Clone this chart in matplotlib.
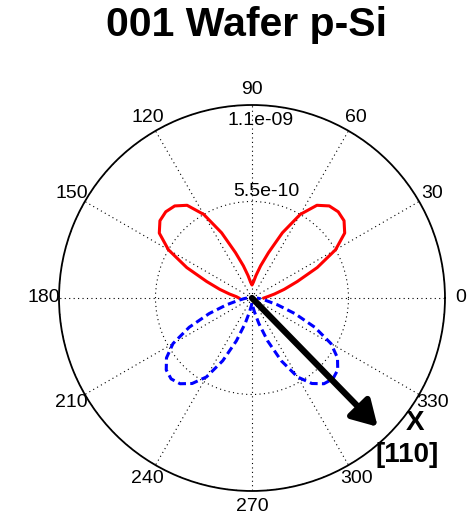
import numpy as np
import matplotlib
matplotlib.use("Agg")
import matplotlib.pyplot as plt

plt.rcParams['font.family'] = ['Liberation Sans', 'DejaVu Sans']

# values, in units of 1e-10
SCALE = 1e-10
red_theta = np.arange(0, 181, 5)
red_r = [0.68, 0.9, 1.3, 1.9, 2.75, 4.1, 5.5, 6.45, 6.85, 6.95,
         6.85, 6.45, 5.5, 4.1, 2.75, 1.9, 1.3, 0.9, 0.74,
         0.9, 1.3, 1.9, 2.75, 4.1, 5.5, 6.45, 6.85, 6.95,
         6.85, 6.45, 5.5, 4.1, 2.75, 1.9, 1.3, 0.9, 0.75]
blue_theta = np.arange(180, 361, 5)
blue_r = [0.28, 0.46, 0.80, 1.50, 2.60, 3.95, 5.20, 5.95, 6.38, 6.52,
          6.38, 5.95, 5.20, 3.95, 2.60, 1.50, 0.80, 0.46, 0.28,
          0.46, 0.80, 1.50, 2.60, 3.95, 5.20, 5.95, 6.38, 6.52,
          6.38, 5.95, 5.20, 3.95, 2.60, 1.50, 0.80, 0.46, 0.28]

rings = [5.5e-10, 1.1e-9]
ring_labels = ['5.5e-10', '1.1e-09']
angle_ticks = list(range(0, 360, 30))
angle_labels = [str(a) for a in angle_ticks]

arrow_angle = -45.7     # X [110] direction
arrow_len = 10.26       # 1e-10 units

fig = plt.figure(figsize=(4.7, 5.25), dpi=100)
ax = fig.add_axes([0.1255, 0.0648, 0.8213, 0.7352], projection='polar')

dots = (0, (1, 3))
ax.plot(np.deg2rad(red_theta), np.array(red_r) * SCALE, color='red', lw=2.2,
        solid_joinstyle='round')
ax.plot(np.deg2rad(blue_theta), np.array(blue_r) * SCALE, color='blue', lw=2.2,
        linestyle=(0, (2.6, 1.4)))

ax.set_ylim(0, rings[-1])
ax.set_rgrids(rings, labels=['', ''])
ax.set_thetagrids(angle_ticks, labels=angle_labels, fontsize=14)
ax.tick_params(axis='x', pad=0.5)
ax.grid(True, color='k', linestyle=dots, linewidth=0.8)
ax.spines['polar'].set_linewidth(1.3)
ax.spines['polar'].set_color('k')

# ring labels
ax.annotate(ring_labels[0], xy=(np.pi / 2, rings[0]), xytext=(10, 7),
            textcoords='offset points', ha='center', va='center', fontsize=14)
ax.annotate(ring_labels[1], xy=(np.pi / 2, rings[1]), xytext=(6.5, -11.5),
            textcoords='offset points', ha='center', va='center', fontsize=14)

# X [110] arrow
tip = (np.deg2rad(arrow_angle), arrow_len * SCALE)
ax.annotate('', xy=tip, xytext=(0, 0),
            arrowprops=dict(arrowstyle='-|>,head_length=0.6,head_width=0.35',
                            lw=4.5, color='k', mutation_scale=25,
                            shrinkA=0, shrinkB=0))
ax.annotate('X', xy=tip, xytext=(27, 3), textcoords='offset points',
            ha='center', va='center', fontsize=20, fontweight='bold')
ax.annotate('[110]', xy=tip, xytext=(21, -20), textcoords='offset points',
            ha='center', va='center', fontsize=20, fontweight='bold')

fig.text(246 / 470, 1 - 25 / 525, '001 Wafer p-Si', ha='center', va='center',
         fontsize=29.5, fontweight='bold')

fig.savefig('out.png', dpi=100)
